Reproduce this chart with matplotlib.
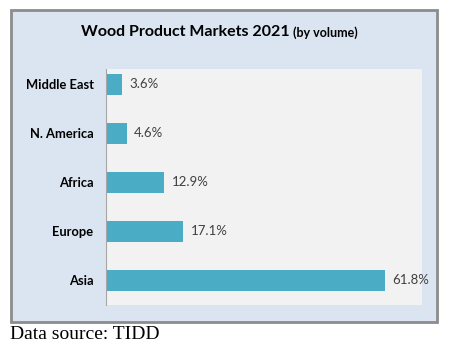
import numpy as np
import matplotlib.pyplot as plt
from matplotlib.patches import Rectangle

regions = ["Middle East", "N. America", "Africa", "Europe", "Asia"]
shares = [3.6, 4.6, 12.9, 17.1, 61.8]
labels = ["3.6%", "4.6%", "12.9%", "17.1%", "61.8%"]

fig = plt.figure(figsize=(4.55, 3.48), dpi=100)
fig.patch.set_facecolor("white")

# outer chart frame
fig.patches.append(Rectangle((0.024, 0.075), 0.936, 0.896, transform=fig.transFigure,
                             facecolor="#dbe5f1", edgecolor="#8c8c8c", lw=2, zorder=-1))

ax = fig.add_axes([0.233, 0.124, 0.694, 0.678])
ax.set_zorder(1)
ax.set_facecolor("#f2f2f2")
y = np.arange(len(regions))
ax.barh(y, shares, height=0.43, color="#4bacc6")
for yi, v, lab in zip(y, shares, labels):
    ax.text(v + 1.6, yi, lab, va="center", ha="left", fontsize=9.5,
            color="#404040", family="Lato")
ax.set_xlim(0, 70)
ax.set_ylim(4.5, -0.316)
ax.set_yticks(y)
ax.set_yticklabels(regions, fontsize=9.3, fontweight="bold", family="Lato")
ax.tick_params(axis="y", length=0, pad=9)
ax.set_xticks([])
for s in ["top", "right", "bottom"]:
    ax.spines[s].set_visible(False)
ax.spines["left"].set_color("#a6a6a6")

fig.text(0.637, 0.908, "Wood Product Markets 2021", ha="right", va="center",
         fontsize=11.5, fontweight="bold", family="Lato")
fig.text(0.645, 0.905, "(by volume)", ha="left", va="center",
         fontsize=9, fontweight="bold", family="Lato")

fig.text(0.022, 0.038, "Data source: TIDD", ha="left", va="center",
         fontsize=14, family="Liberation Serif")

fig.savefig("out.png", dpi=100, facecolor="white")
